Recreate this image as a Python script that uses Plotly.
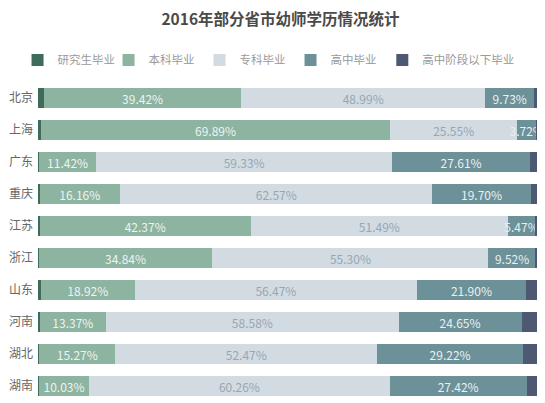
import plotly.graph_objects as go

# 省市与各学历占比（%）
regions = ["北京", "上海", "广东", "重庆", "江苏", "浙江", "山东", "河南", "湖北", "湖南"]
grad = [1.26, 0.64, 0.23, 0.30, 0.30, 0.12, 0.52, 0.30, 0.24, 0.20]
bachelor = [39.42, 69.89, 11.42, 16.16, 42.37, 34.84, 18.92, 13.37, 15.27, 10.03]
college = [48.99, 25.55, 59.33, 62.57, 51.49, 55.30, 56.47, 58.58, 52.47, 60.26]
highschool = [9.73, 3.72, 27.61, 19.70, 5.47, 9.52, 21.90, 24.65, 29.22, 27.42]
below = [0.60, 0.20, 1.41, 1.27, 0.37, 0.22, 2.19, 3.10, 2.80, 2.09]

series_names = ["研究生毕业", "本科毕业", "专科毕业", "高中毕业", "高中阶段以下毕业"]
series_values = [grad, bachelor, college, highschool, below]
colors = ["#3f6b5b", "#8db3a1", "#d2dbe2", "#6d9198", "#4d5873"]
text_colors = [None, "#eef4f1", "#98a6b3", "#e9f0f2", None]
# 最后一项文字太长，单独放一个图例
legend_ids = ["legend", "legend", "legend", "legend", "legend2"]

fig = go.Figure()
for name, vals, col, tcol, lg in zip(series_names, series_values, colors, text_colors, legend_ids):
    fig.add_trace(go.Bar(
        y=regions, x=vals, name=name, orientation="h",
        marker=dict(color=col, line=dict(width=0)),
        texttemplate="%{x:.2f}%" if tcol else None,
        textposition="inside" if tcol else "none",
        insidetextanchor="middle",
        constraintext="none",
        textangle=0,
        insidetextfont=dict(color=tcol, size=12) if tcol else None,
        hoverinfo="skip",
        legend=lg,
    ))

legend_font = dict(size=11.5, color="#999")

# 页面body自带8px边距，这里的边距已把它算进去
fig.update_layout(
    width=545, height=403,
    barmode="stack", bargap=0.37,
    paper_bgcolor="white", plot_bgcolor="white",
    font=dict(family="Noto Sans CJK SC", color="#666"),
    margin=dict(l=30, r=16, t=74, b=9, autoexpand=False),
    title=dict(text="2016年部分省市幼师学历情况统计", x=0.5, xanchor="center",
               y=0.972, yanchor="middle",
               font=dict(size=15.5, color="#4a4a4a", weight=600)),
    legend=dict(orientation="h", x=-0.041, xanchor="left", y=1.069, yanchor="middle",
                font=legend_font, entrywidth=46, entrywidthmode="pixels",
                itemwidth=30, traceorder="normal"),
    legend2=dict(orientation="h", x=0.69, xanchor="left", y=1.069, yanchor="middle",
                 font=legend_font, itemwidth=30),
    showlegend=True,
    xaxis=dict(range=[0, 100], visible=False, fixedrange=True),
    yaxis=dict(autorange="reversed", showgrid=False, ticks="", showline=False, automargin=False,
               tickfont=dict(size=12, color="#666"), ticklabelstandoff=4),
)

fig.write_html("out.html")
